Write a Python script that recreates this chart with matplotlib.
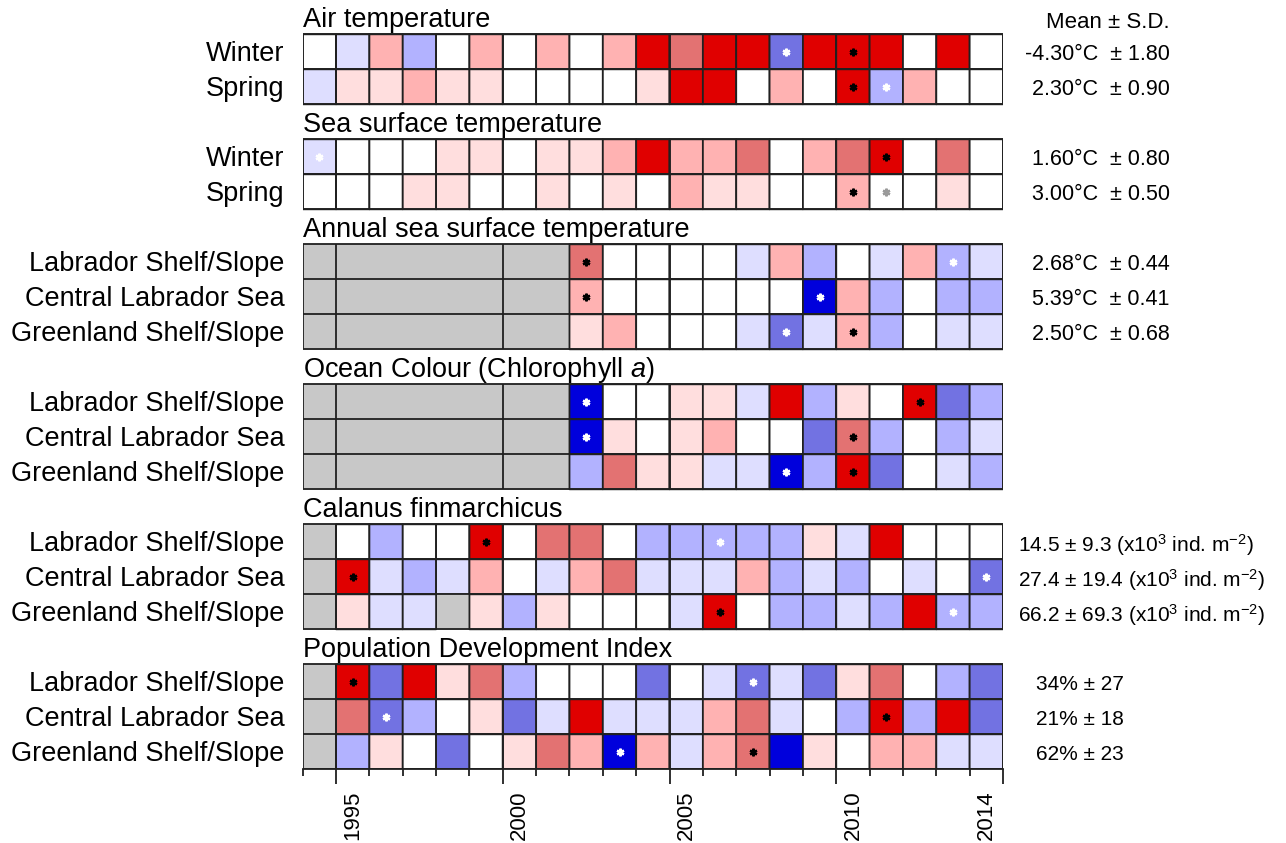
import numpy as np
import matplotlib.pyplot as plt
from matplotlib.colors import ListedColormap, BoundaryNorm

plt.rcParams['font.family'] = ['Liberation Sans', 'DejaVu Sans']
plt.rcParams['mathtext.fontset'] = 'custom'
plt.rcParams['mathtext.rm'] = 'Liberation Sans'
plt.rcParams['mathtext.it'] = 'Liberation Sans:italic'

na = np.nan
years = np.arange(1994, 2015)

# anomaly class per year: -4 (strong negative) .. +4 (strong positive), nan = no data
air_winter = [0, -1, 2, -2, 0, 2, 0, 2, 0, 2, 4, 3, 4, 4, -3, 4, 4, 4, 0, 4, 0]
air_spring = [-1, 1, 1, 2, 1, 1, 0, 0, 0, 0, 1, 4, 4, 0, 2, 0, 4, -2, 2, 0, 0]
sst_winter = [-1, 0, 0, 0, 1, 1, 0, 1, 1, 2, 4, 2, 2, 3, 0, 2, 3, 4, 0, 3, 0]
sst_spring = [0, 0, 0, 1, 1, 0, 0, 1, 0, 1, 0, 2, 1, 1, 0, 0, 2, 0, 0, 1, 0]

asst_lab = [na]*8 + [3, 0, 0, 0, 0, -1, 2, -2, 0, -1, 2, -2, -1]
asst_cls = [na]*8 + [2, 0, 0, 0, 0, 0, 0, -4, 2, -2, 0, -2, -2]
asst_grl = [na]*8 + [1, 2, 0, 0, 0, -1, -3, -1, 2, -2, 0, -1, -1]

chl_lab = [na]*8 + [-4, 0, 0, 1, 1, -1, 4, -2, 1, 0, 4, -3, -2]
chl_cls = [na]*8 + [-4, 1, 0, 1, 2, 0, 0, -3, 3, -2, 0, -2, -1]
chl_grl = [na]*8 + [-2, 3, 1, 1, -1, -1, -4, -2, 4, -3, 0, -1, -2]

cfin_lab = [na, 0, -2, 0, 0, 4, 0, 3, 3, 0, -2, -2, -2, -2, -2, 1, -1, 4, 0, 0, 0]
cfin_cls = [na, 4, -1, -2, -1, 2, 0, -1, 2, 3, -1, -1, -1, 2, -2, -1, -2, 0, -1, 0, -3]
cfin_grl = [na, 1, -1, -1, na, 1, -2, 1, 0, 0, 0, -1, 4, 0, -2, -2, -1, -2, 4, -2, -2]

pdi_lab = [na, 4, -3, 4, 1, 3, -2, 0, 0, 0, -3, 0, -1, -3, -1, -3, 1, 3, 0, -2, -3]
pdi_cls = [na, 3, -3, -2, 0, 1, -3, -1, 4, -1, -1, -1, 2, 3, -1, 0, -2, 4, -2, 4, -3]
pdi_grl = [na, -2, 1, 0, -3, 0, 1, 3, 2, -4, 2, -1, 2, 3, -4, 1, 0, 2, 2, -1, -1]

# years of series maximum / minimum (flagged with a symbol)
air_hi, air_lo = [2010, 2010], [2008, 2011]
sst_hi, sst_lo = [2011, 2010], [1994, 2011]
asst_hi, asst_lo = [2002, 2002, 2010], [2013, 2009, 2008]
chl_hi, chl_lo = [2012, 2010, 2010], [2002, 2002, 2008]
cfin_hi, cfin_lo = [1999, 1995, 2006], [2006, 2014, 2013]
pdi_hi, pdi_lo = [1995, 2011, 2007], [2007, 1996, 2003]

regions = ["Labrador Shelf/Slope", "Central Labrador Sea", "Greenland Shelf/Slope"]
seasons = ["Winter", "Spring"]

air_stats = ["-4.30°C  ± 1.80", "2.30°C  ± 0.90"]
sst_stats = ["1.60°C  ± 0.80", "3.00°C  ± 0.50"]
asst_stats = ["2.68°C  ± 0.44", "5.39°C  ± 0.41", "2.50°C  ± 0.68"]
cfin_stats = [r"14.5 ± 9.3 (x10$^{3}$ ind. m$^{-2}$)",
              r"27.4 ± 19.4 (x10$^{3}$ ind. m$^{-2}$)",
              r"66.2 ± 69.3 (x10$^{3}$ ind. m$^{-2}$)"]
pdi_stats = ["34% ± 27", "21% ± 18", "62% ± 23"]

panels = [
    ("Air temperature", seasons, [air_winter, air_spring], air_hi, air_lo, air_stats, "right"),
    ("Sea surface temperature", seasons, [sst_winter, sst_spring], sst_hi, sst_lo, sst_stats, "right"),
    ("Annual sea surface temperature", regions, [asst_lab, asst_cls, asst_grl], asst_hi, asst_lo, asst_stats, "right"),
    (r"Ocean Colour (Chlorophyll $a$)", regions, [chl_lab, chl_cls, chl_grl], chl_hi, chl_lo, None, None),
    ("Calanus finmarchicus", regions, [cfin_lab, cfin_cls, cfin_grl], cfin_hi, cfin_lo, cfin_stats, "cfin"),
    ("Population Development Index", regions, [pdi_lab, pdi_cls, pdi_grl], pdi_hi, pdi_lo, pdi_stats, "pdi"),
]

colors = ['#0000DC', '#7272E2', '#B2B2FF', '#DEDEFF', '#FFFFFF',
          '#FFDEDE', '#FFB2B2', '#E37272', '#E00000']
cmap = ListedColormap(colors)
norm = BoundaryNorm(np.arange(-4.5, 5.5, 1), cmap.N)
gray_cmap = ListedColormap(['#C8C8C8'])
edge = '#202020'
lw = 1.3

fig = plt.figure(figsize=(12.86, 8.43), dpi=100)
ax = fig.add_axes([302.7/1286, 1 - 769.3/843, 700.3/1286, 770/843])
xe = np.arange(years[0] - 0.5, years[-1] + 1.0)
major_edges = [1993.5, 1994.5, 1999.5, 2004.5, 2009.5, 2014.5]

fs = 19.5
fs_temp = 15.5
fs_small = 15

u = 0
for title, labels, rows, hi, lo, stats, align in panels:
    ax.text(xe[0], u + 0.79, title, fontsize=fs, ha='left', va='baseline', clip_on=False)
    top = u + 1
    for i, (lab, row) in enumerate(zip(labels, rows)):
        y0 = top + i
        vals = np.array(row, dtype=float)
        nan_row = np.where(np.isnan(vals), 1.0, np.nan)
        # missing years: plain gray, no cell outline
        ax.pcolor(xe, [y0, y0 + 1], np.ma.masked_invalid(nan_row)[None, :],
                  cmap=gray_cmap, edgecolors='none')
        ax.pcolor(xe, [y0, y0 + 1], np.ma.masked_invalid(vals)[None, :],
                  cmap=cmap, norm=norm, edgecolors=edge, linewidth=lw)

        ax.annotate(lab, xy=(xe[0], y0 + 0.5), xytext=(-13, -1.5), textcoords='offset points',
                    ha='right', va='center', fontsize=fs)

        # max / min markers
        k_lo = lo[i] - years[0]
        ax.plot(hi[i], y0 + 0.5, marker=(6, 2, 0), ms=5.5, mew=1.7, color='black', zorder=5)
        lo_col = '#9A9A9A' if vals[k_lo] == 0 else 'white'
        ax.plot(lo[i], y0 + 0.5, marker=(6, 2, 0), ms=5.5, mew=1.7, color=lo_col, zorder=5)

        if stats is not None:
            if align == "right":
                ax.annotate(stats[i], xy=(xe[-1], y0 + 0.5), xytext=(120, -2),
                            textcoords='offset points', ha='right', va='center', fontsize=fs_temp)
            elif align == "cfin":
                ax.annotate(stats[i], xy=(xe[-1], y0 + 0.5), xytext=(10.5, -2),
                            textcoords='offset points', ha='left', va='center', fontsize=fs_small)
            else:
                ax.annotate(stats[i], xy=(xe[-1], y0 + 0.5), xytext=(24, -2),
                            textcoords='offset points', ha='left', va='center', fontsize=fs_small)
    bottom = top + len(rows)
    ax.hlines(np.arange(top, bottom + 1), xe[0], xe[-1], color=edge, lw=lw, zorder=4)
    ax.vlines(major_edges, top, bottom, color=edge, lw=lw, zorder=4)
    u = bottom

ax.annotate("Mean ± S.D.", xy=(xe[-1], 0.83), xytext=(120, 0), textcoords='offset points',
            ha='right', va='baseline', fontsize=16, annotation_clip=False)

ax.set_xlim(xe[0], xe[-1])
ax.set_ylim(22, 0)
for side in ['left', 'right', 'top']:
    ax.spines[side].set_visible(False)
ax.spines['bottom'].set_linewidth(lw)
ax.spines['bottom'].set_color(edge)
ax.set_yticks([])
ax.set_xticks(major_edges[1:])
ax.set_xticks(xe, minor=True)
ax.set_xticklabels([])
ax.tick_params(axis='x', which='major', length=11, width=lw, color=edge)
ax.tick_params(axis='x', which='minor', length=5, width=lw, color=edge)

for yr in [1995, 2000, 2005, 2010, 2014]:
    ax.annotate(str(yr), xy=(yr, 0), xycoords=('data', 'axes fraction'), xytext=(0, -15),
                textcoords='offset points', rotation=90, ha='center', va='top', fontsize=16)

fig.savefig('out.png', dpi=100)
